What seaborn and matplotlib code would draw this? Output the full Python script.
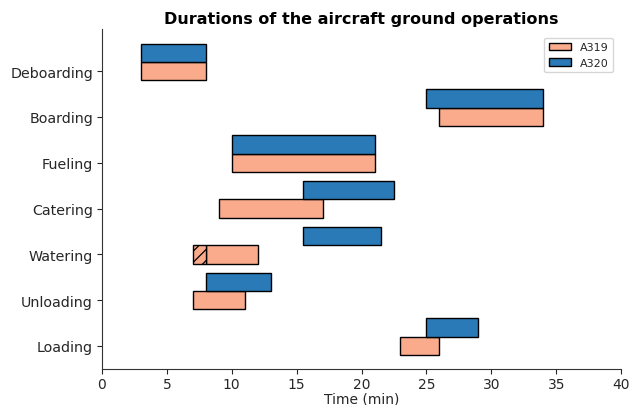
import matplotlib
matplotlib.use("Agg")
import matplotlib.pyplot as plt
from matplotlib.patches import Patch
import seaborn as sns

# Ground operations, listed bottom to top
operations = ["Loading", "Unloading", "Watering", "Catering", "Fueling", "Boarding", "Deboarding"]

# Start / end times (min) per aircraft type
a319_start = [23, 7, 8, 9, 10, 26, 3]
a319_end = [26, 11, 12, 17, 21, 34, 8]
a320_start = [25, 8, 15.5, 15.5, 10, 25, 3]
a320_end = [29, 13, 21.5, 22.5, 21, 34, 8]

# Optional (hatched) part of the A319 watering
a319_optional_op = "Watering"
a319_optional_start = 7
a319_optional_end = 8

x_ticks = [0, 5, 10, 15, 20, 25, 30, 35, 40]

sns.set_style("ticks", {"text.color": "#262626", "axes.labelcolor": "#262626",
                        "xtick.color": "#262626", "ytick.color": "#262626",
                        "axes.edgecolor": "#333333"})
plt.rcParams["font.family"] = ["DejaVu Sans"]
plt.rcParams["hatch.linewidth"] = 0.9

c319 = "#f9ab8c"
c320 = "#2a7ab8"
h = 0.4

fig = plt.figure(figsize=(6.41, 4.06), dpi=100)
ax = fig.add_axes([0.159, 0.089, 0.81, 0.837])

ypos = list(range(len(operations)))
ax.barh(ypos, [e - s for s, e in zip(a319_start, a319_end)], left=a319_start,
        height=h, color=c319, edgecolor="black", linewidth=1, align="center")
ax.barh([y + h for y in ypos], [e - s for s, e in zip(a320_start, a320_end)], left=a320_start,
        height=h, color=c320, edgecolor="black", linewidth=1, align="center")

oi = operations.index(a319_optional_op)
ax.barh(oi, a319_optional_end - a319_optional_start, left=a319_optional_start,
        height=h, color=c319, edgecolor="black", linewidth=1, hatch="///")

ax.set_yticks(ypos)
ax.set_yticklabels(operations, fontsize=10.3)
ax.set_xticks(x_ticks)
ax.tick_params(axis="x", labelsize=10, pad=2)
ax.tick_params(axis="y", pad=3)
ax.set_xlim(0, 40)
ax.set_ylim(-0.5, 6.92)
ax.set_xlabel("Time (min)", fontsize=10, labelpad=1)
ax.set_title("Durations of the aircraft ground operations", fontsize=11.5,
             fontweight="bold", color="black", pad=4)
sns.despine(ax=ax)

handles = [Patch(facecolor=c319, edgecolor="black", label="A319"),
           Patch(facecolor=c320, edgecolor="black", label="A320")]
ax.legend(handles=handles, loc="upper right", fontsize=8, frameon=True,
          bbox_to_anchor=(0.995, 0.99))

fig.savefig("out.png", dpi=100)
